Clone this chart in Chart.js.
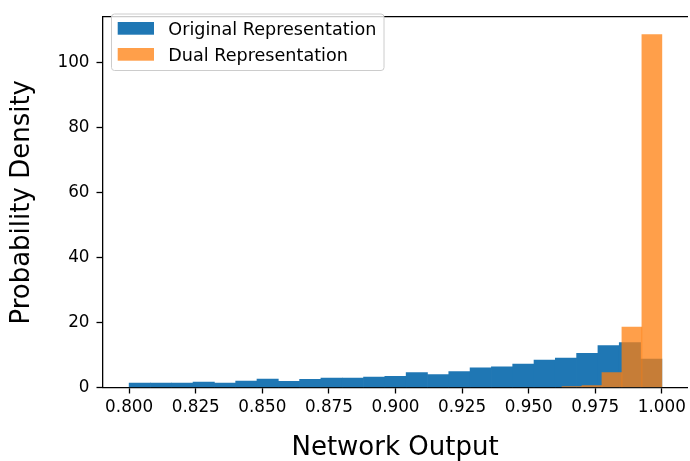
<!DOCTYPE html>
<html>
<head>
<meta charset="utf-8">
<script src="https://cdn.jsdelivr.net/npm/chart.js@4"></script>
<style>
  html, body { margin: 0; padding: 0; background: #fff; }
  #wrap { width: 690px; height: 461px; }
</style>
</head>
<body>
<div id="wrap"><canvas id="chart" width="690" height="461"></canvas></div>
<script>
// histogram bins (left edges) and densities
const originalEdges = [0.800, 0.808, 0.816, 0.824, 0.832, 0.840, 0.848, 0.856, 0.864, 0.872,
                       0.880, 0.888, 0.896, 0.904, 0.912, 0.920, 0.928, 0.936, 0.944, 0.952,
                       0.960, 0.968, 0.976, 0.984, 0.992];
const originalWidth = 0.008;
const originalDensity = [1.39, 1.39, 1.39, 1.69, 1.39, 1.99, 2.58, 1.89, 2.48, 2.88,
                         2.88, 3.18, 3.43, 4.57, 3.97, 4.87, 6.06, 6.36, 7.25, 8.45,
                         9.04, 10.53, 12.92, 13.81, 8.74];

const dualEdges = [0.9625, 0.9700, 0.9775, 0.9850, 0.9925];
const dualWidth = 0.0075;
const dualDensity = [0.30, 0.60, 4.57, 18.58, 108.65];

const seriesNames = ["Original Representation", "Dual Representation"];
const xTicks = [0.800, 0.825, 0.850, 0.875, 0.900, 0.925, 0.950, 0.975, 1.000];
const yTicks = [0, 20, 40, 60, 80, 100];

const FONT = "'DejaVu Sans', sans-serif";
const BLUE = "#1f77b4";
const ORANGE = "rgba(255,127,14,0.75)";

function toBars(edges, width, vals) {
    return edges.map((e, i) => ({ x: e + width / 2, y: vals[i] }));
}

// matplotlib style legend box in the upper left corner
const legendBox = {
    id: "legendBox",
    afterDraw(chart) {
        const ctx = chart.ctx;
        const x = 111.5, y = 14, w = 272.5, h = 56.5, r = 3;
        ctx.save();
        ctx.beginPath();
        ctx.roundRect(x, y, w, h, r);
        ctx.fillStyle = "rgba(255,255,255,0.8)";
        ctx.fill();
        ctx.strokeStyle = "#cccccc";
        ctx.lineWidth = 1;
        ctx.stroke();
        ctx.font = "17.6px " + FONT;
        ctx.textBaseline = "alphabetic";
        chart.data.datasets.forEach((ds, i) => {
            const rowY = 22 + i * 26;
            ctx.fillStyle = ds.backgroundColor;
            ctx.fillRect(117.7, rowY, 36.3, 12.7);
            ctx.fillStyle = "#000";
            ctx.fillText(ds.label, 168.3, rowY + 12.7);
        });
        ctx.restore();
    }
};

new Chart(document.getElementById("chart"), {
    type: "bar",
    data: {
        datasets: [
            {
                label: seriesNames[0],
                data: toBars(originalEdges, originalWidth, originalDensity),
                backgroundColor: BLUE,
                xAxisID: "x",
                order: 1
            },
            {
                label: seriesNames[1],
                data: toBars(dualEdges, dualWidth, dualDensity),
                backgroundColor: ORANGE,
                xAxisID: "x2",
                order: 0
            }
        ]
    },
    options: {
        responsive: false,
        animation: false,
        layout: { padding: { top: 5, left: 0, right: 0, bottom: 0 } },
        datasets: { bar: { barPercentage: 1, categoryPercentage: 1, grouped: false } },
        plugins: { legend: { display: false }, tooltip: { enabled: false } },
        scales: {
            x: {
                type: "linear",
                position: "bottom",
                offset: false,
                min: 0.79,
                max: 1.00963,
                afterFit(s) { s.height = 73.5; },
                afterBuildTicks(s) { s.ticks = xTicks.map(v => ({ value: v })); },
                ticks: {
                    autoSkip: false,
                    maxRotation: 0,
                    padding: 4,
                    color: "#000",
                    font: { family: FONT, size: 16.8 },
                    callback: v => v.toFixed(3)
                },
                grid: { offset: false, drawOnChartArea: false, drawTicks: true, tickLength: 6, color: "#000", tickWidth: 1.3 },
                border: { display: true, color: "#000", width: 1.3 },
                title: {
                    display: true,
                    text: "Network Output",
                    color: "#000",
                    font: { family: FONT, size: 26, lineHeight: 1 },
                    padding: { top: 0, bottom: 0 }
                }
            },
            x2: {
                type: "linear",
                position: "top",
                offset: false,
                min: 0.79,
                max: 1.00963,
                afterFit(s) { s.height = 0; },
                ticks: { display: false },
                grid: { offset: false, drawOnChartArea: false, drawTicks: false },
                border: { display: true, color: "#000", width: 1.3 }
            },
            y: {
                type: "linear",
                position: "left",
                min: 0,
                max: 114.07,
                afterFit(s) { s.width = 102.5; },
                afterBuildTicks(s) { s.ticks = yTicks.map(v => ({ value: v })); },
                ticks: {
                    padding: 7,
                    color: "#000",
                    font: { family: FONT, size: 16.8 }
                },
                grid: { drawOnChartArea: false, drawTicks: true, tickLength: 6, color: "#000", tickWidth: 1.3 },
                border: { display: true, color: "#000", width: 1.3 },
                title: {
                    display: true,
                    text: "Probability Density",
                    color: "#000",
                    font: { family: FONT, size: 26, lineHeight: 1 },
                    padding: { top: 9.5, bottom: 0 }
                }
            }
        }
    },
    plugins: [legendBox]
});
</script>
</body>
</html>
